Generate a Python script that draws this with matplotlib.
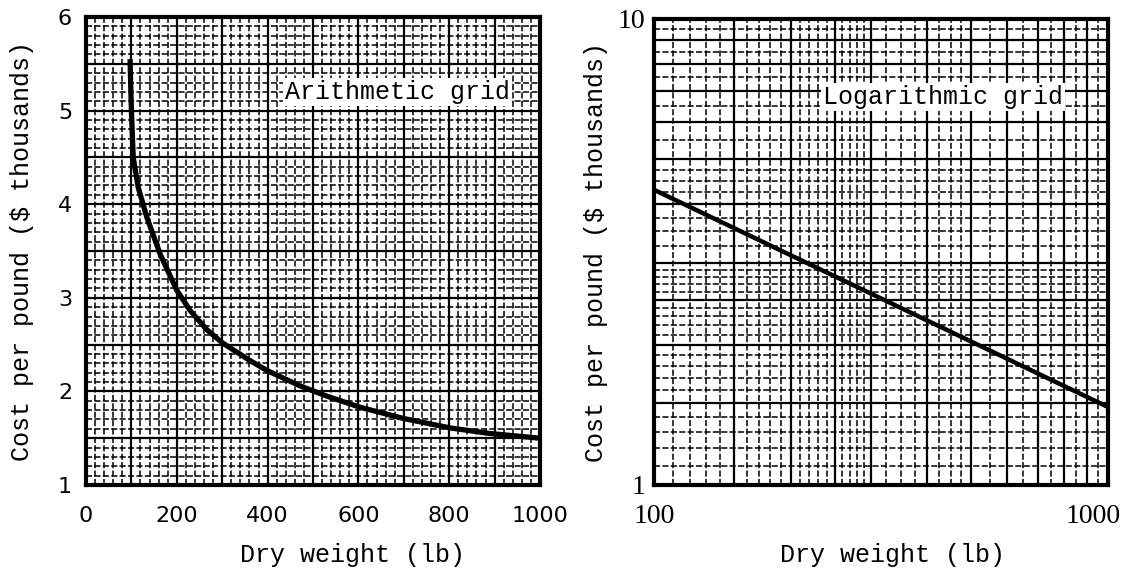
import numpy as np
import matplotlib.pyplot as plt
from matplotlib.ticker import FixedLocator, FuncFormatter
from matplotlib.transforms import ScaledTranslation

# curve
arith_weight = [97, 100, 104, 115, 134, 163, 200, 230, 266, 300, 361, 400, 471, 530, 604, 700, 802, 890, 1000]
arith_cost = [5.55, 5.0, 4.5, 4.18, 3.86, 3.47, 3.08, 2.86, 2.66, 2.52, 2.33, 2.22, 2.06, 1.95, 1.83, 1.71, 1.61, 1.55, 1.50]

# straight line on the log-log panel
log_weight = [100, 1000]
log_cost = [4.3, 1.47]

# arithmetic grid
arith_x_major = np.arange(0, 1001, 100)
arith_x_minor = np.arange(0, 1001, 20)
arith_y_major = np.arange(1, 6.01, 0.5)
arith_y_minor = np.arange(1, 6.01, 0.1)
arith_x_labels = [0, 200, 400, 600, 800, 1000]
arith_y_labels = [1, 2, 3, 4, 5, 6]

# logarithmic grid
log_x_major = [100, 150, 200, 250, 300, 400, 500, 600, 700, 800, 900, 1000]
log_x_minor = [110, 120, 130, 140, 160, 170, 180, 190, 210, 220, 230, 240,
               260, 270, 280, 290, 325, 350, 375, 425, 450, 475,
               550, 650, 750, 850, 950]
log_y_major = [1, 1.5, 2, 2.5, 3, 4, 5, 6, 7, 8, 9, 10]
log_y_minor = [1.1, 1.2, 1.3, 1.4, 1.6, 1.7, 1.8, 1.9, 2.1, 2.2, 2.3, 2.4,
               2.6, 2.7, 2.8, 2.9, 3.25, 3.5, 3.75, 4.25, 4.5, 4.75,
               5.5, 6.5, 7.5, 8.5, 9.5]
log_x_labels = [100, 1000]
log_y_labels = [1, 10]

mono = "Liberation Mono"
W, H = 1129, 571

fig = plt.figure(figsize=(W / 100, H / 100), dpi=100)
ax1 = fig.add_axes([86 / W, 86 / H, 454 / W, 468 / H])
ax2 = fig.add_axes([654 / W, 86 / H, 454 / W, 466 / H])


def only(labels):
    return FuncFormatter(lambda v, p: f"{v:g}" if any(abs(v - l) < 1e-6 for l in labels) else "")


def paper(ax, xmaj, xmin, ymaj, ymin, xlab, ylab):
    ax.xaxis.set_major_locator(FixedLocator(xmaj))
    ax.xaxis.set_minor_locator(FixedLocator(xmin))
    ax.yaxis.set_major_locator(FixedLocator(ymaj))
    ax.yaxis.set_minor_locator(FixedLocator(ymin))
    ax.xaxis.set_major_formatter(only(xlab))
    ax.yaxis.set_major_formatter(only(ylab))
    ax.xaxis.set_minor_formatter(FuncFormatter(lambda v, p: ""))
    ax.yaxis.set_minor_formatter(FuncFormatter(lambda v, p: ""))
    ax.tick_params(which="both", length=0)
    ax.grid(True, which="major", color="black", lw=1.6)
    ax.grid(True, which="minor", color="black", lw=1.1, ls=(0, (4, 1.5)))
    ax.set_axisbelow(True)
    for s in ax.spines.values():
        s.set_linewidth(3)


# left: arithmetic
ax1.plot(arith_weight, arith_cost, color="black", lw=3.8, solid_capstyle="butt", zorder=3)
ax1.set_xlim(0, 1000)
ax1.set_ylim(1, 6)
paper(ax1, arith_x_major, arith_x_minor, arith_y_major, arith_y_minor, arith_x_labels, arith_y_labels)
ax1.tick_params(axis="x", pad=15, labelsize=16)
ax1.tick_params(axis="y", pad=10, labelsize=16)
ax1.text(0.438, 0.84, "Arithmetic grid", transform=ax1.transAxes, family=mono, fontsize=18,
         va="center", ha="left", zorder=4,
         bbox=dict(facecolor="white", edgecolor="none", pad=1.5))
ax1.set_xlabel("Dry weight (lb)", family=mono, fontsize=18)
ax1.xaxis.set_label_coords(0.586, -0.15)
ax1.xaxis.label.set_va("center")
ax1.set_ylabel("Cost per pound (\\$ thousands)", family=mono, fontsize=18, va="center")
ax1.yaxis.set_label_coords(-0.141, 0.5)

# right: logarithmic
ax2.plot(log_weight, log_cost, color="black", lw=3.2, zorder=3)
ax2.set_xscale("log")
ax2.set_yscale("log")
ax2.set_xlim(100, 1000)
ax2.set_ylim(1, 10)
paper(ax2, log_x_major, log_x_minor, log_y_major, log_y_minor, log_x_labels, log_y_labels)
ax2.tick_params(axis="x", pad=14, labelsize=20)
ax2.tick_params(axis="y", pad=6, labelsize=20)
for lab in ax2.get_xticklabels() + ax2.get_yticklabels():
    lab.set_family("Liberation Serif")
ax2.text(0.372, 0.833, "Logarithmic grid", transform=ax2.transAxes, family=mono, fontsize=18,
         va="center", ha="left", zorder=4,
         bbox=dict(facecolor="white", edgecolor="none", pad=1.5))
ax2.set_xlabel("Dry weight (lb)", family=mono, fontsize=18)
ax2.xaxis.set_label_coords(0.526, -0.15)
ax2.xaxis.label.set_va("center")
ax2.set_ylabel("Cost per pound (\\$ thousands)", family=mono, fontsize=18, va="center")
ax2.yaxis.set_label_coords(-0.128, 0.5)

fig.canvas.draw()
shift = ScaledTranslation(-0.15, 0, fig.dpi_scale_trans)
for lab in ax2.get_xticklabels():
    if lab.get_text() == "1000":
        lab.set_transform(lab.get_transform() + shift)

fig.savefig("out.png", dpi=100)
